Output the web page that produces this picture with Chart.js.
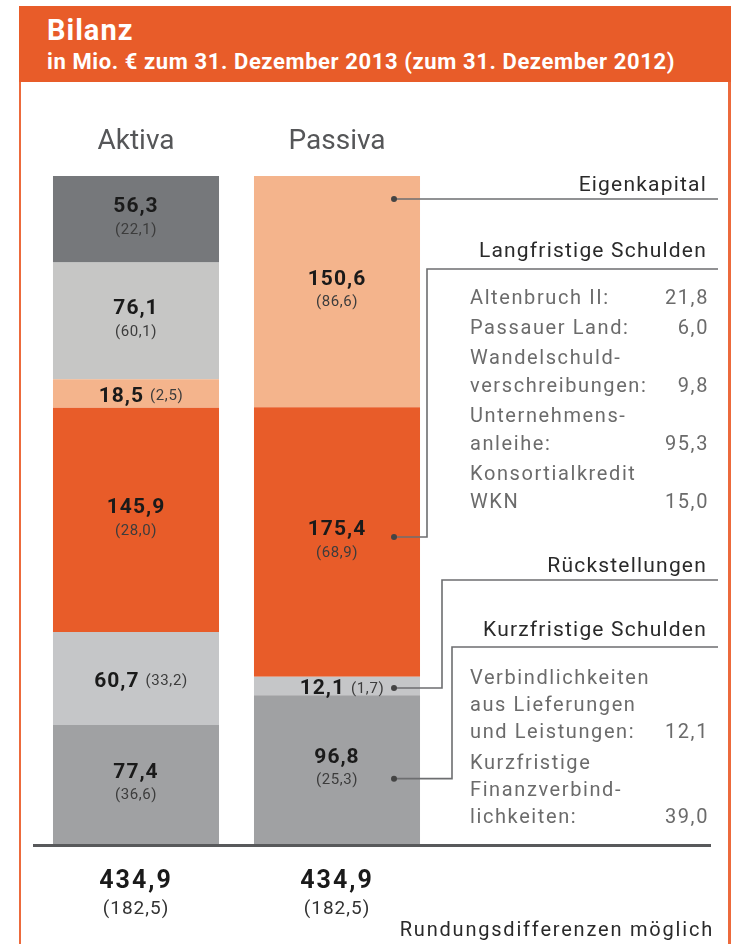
<!DOCTYPE html>
<html lang="de">
<head>
<meta charset="utf-8">
<title>Bilanz</title>
<script src="https://cdn.jsdelivr.net/npm/chart.js@4.4.1/dist/chart.umd.min.js"></script>
<style>
  html, body { margin: 0; padding: 0; background: #fff; }
  body { width: 734px; height: 944px; position: relative; overflow: hidden; font-family: Roboto, sans-serif; }
  #head { position: absolute; left: 19px; top: 6px; width: 712px; height: 76px; background: #e85c29; color: #fff; }
  #head .t1 { position: absolute; left: 28px; top: 10px; font-size: 29px; line-height: 29px; font-weight: 700; letter-spacing: 1px; white-space: nowrap; }
  #head .t2 { position: absolute; left: 28px; top: 45px; font-size: 22px; line-height: 22px; font-weight: 700; letter-spacing: 0.6px; white-space: nowrap; }
  .side { position: absolute; top: 82px; bottom: 0; background: #ec6a3c; }
  #chart { position: absolute; left: 0; top: 0; }
</style>
</head>
<body>
<div id="head">
  <div class="t1">Bilanz</div>
  <div class="t2">in Mio. € zum 31. Dezember 2013 (zum 31. Dezember 2012)</div>
</div>
<div class="side" style="left:19px;width:2px"></div>
<div class="side" style="left:728px;width:3px"></div>
<canvas id="chart" width="734" height="944"></canvas>
<script>
// Segmente jeweils von unten nach oben
const categories = ['Aktiva', 'Passiva'];
const aktiva2013 = [77.4, 60.7, 145.9, 18.5, 76.1, 56.3];
const aktiva2012 = [36.6, 33.2, 28.0, 2.5, 60.1, 22.1];
const passiva2013 = [96.8, 12.1, 175.4, 150.6];
const passiva2012 = [25.3, 1.7, 68.9, 86.6];
const total2013 = [434.9, 434.9];
const total2012 = [182.5, 182.5];

const langfristigeNames = [['Altenbruch II:'], ['Passauer Land:'], ['Wandelschuld-', 'verschreibungen:'], ['Unternehmens-', 'anleihe:'], ['Konsortialkredit', 'WKN']];
const langfristigeValues = [21.8, 6.0, 9.8, 95.3, 15.0];
const kurzfristigeNames = [['Verbindlichkeiten', 'aus Lieferungen', 'und Leistungen:'], ['Kurzfristige', 'Finanzverbind-', 'lichkeiten:']];
const kurzfristigeValues = [12.1, 39.0];

const colors = ['#a0a1a3', '#c5c6c8', '#e85c29', '#f4b48c', '#c6c6c5', '#76787b'];
const inlineSeg = [[1, 3], [1]];   // Segmente mit Vorjahreswert in derselben Zeile

const fmt = v => v.toFixed(1).replace('.', ',');
const sum = a => a.reduce((s, v) => s + v, 0);

function txt(ctx, s, x, y, font, color, align, ls) {
  ctx.font = font;
  ctx.fillStyle = color;
  ctx.textAlign = align || 'left';
  ctx.letterSpacing = (ls || 0) + 'px';
  ctx.fillText(s, x, y);
}

const levels = Math.max(aktiva2013.length, passiva2013.length);
const datasets = [];
for (let i = 0; i < levels; i++) {
  datasets.push({
    data: [aktiva2013[i] ?? null, passiva2013[i] ?? null],
    backgroundColor: colors[i],
    borderWidth: 0,
    categoryPercentage: 0.826,
    barPercentage: 1
  });
}

const bilanzPlugin = {
  id: 'bilanz',
  afterDatasetsDraw(chart) {
    const ctx = chart.ctx;
    const xs = chart.scales.x, ys = chart.scales.y;
    const priors = [aktiva2012, passiva2012];
    ctx.save();

    // Werte in den Balken
    chart.data.datasets.forEach((ds, i) => {
      chart.getDatasetMeta(i).data.forEach((bar, j) => {
        const v = ds.data[j];
        if (v == null) return;
        const cy = (bar.y + bar.base) / 2;
        const val = fmt(v), prev = '(' + fmt(priors[j][i]) + ')';
        ctx.textBaseline = 'middle';
        if (inlineSeg[j].includes(i)) {
          ctx.font = 'bold 21px Roboto'; ctx.letterSpacing = '1px';
          const w1 = ctx.measureText(val).width;
          ctx.font = '15px Roboto'; ctx.letterSpacing = '0.6px';
          const w2 = ctx.measureText(prev).width;
          const gap = 6;
          const x0 = bar.x + 5 - (w1 + gap + w2) / 2;
          txt(ctx, val, x0, cy + 3, 'bold 21px Roboto', '#1a1a1a', 'left', 1);
          txt(ctx, prev, x0 + w1 + gap, cy + 3, '15px Roboto', '#3c3c3c', 'left', 0.6);
        } else {
          txt(ctx, val, bar.x, cy - 12, 'bold 21px Roboto', '#1a1a1a', 'center', 1);
          txt(ctx, prev, bar.x, cy + 11, '15px Roboto', '#3c3c3c', 'center', 0.6);
        }
      });
    });

    // Grundlinie
    const y0 = ys.getPixelForValue(0);
    ctx.fillStyle = '#58595b';
    ctx.fillRect(33, y0, 678, 3);

    // Summen
    ctx.textBaseline = 'alphabetic';
    categories.forEach((c, j) => {
      const x = xs.getPixelForValue(j);
      txt(ctx, fmt(total2013[j]), x, 888, 'bold 25px Roboto', '#1a1a1a', 'center', 2);
      txt(ctx, '(' + fmt(total2012[j]) + ')', x, 914, '19px Roboto', '#333', 'center', 1);
    });

    // Erläuterungen zur Passivseite
    const seg = i => chart.getDatasetMeta(i).data[1];
    const barRight = seg(0).x + seg(0).width / 2;
    const dotX = barRight - 26;
    const notes = [
      { text: 'Eigenkapital', level: 3, textY: 191, lineY: null, elbowX: null, dot: b => b.y + 23 },
      { text: 'Langfristige Schulden', level: 2, textY: 257, lineY: 269, elbowX: 427, dot: b => (b.y + b.base) / 2 - 5 },
      { text: 'Rückstellungen', level: 1, textY: 572, lineY: 580, elbowX: 442, dot: b => (b.y + b.base) / 2 + 2 },
      { text: 'Kurzfristige Schulden', level: 0, textY: 636, lineY: 647, elbowX: 452, dot: b => (b.y + b.base) / 2 + 9 }
    ];
    notes.forEach(n => {
      const dy = n.dot(seg(n.level));
      ctx.strokeStyle = '#6d6e70';
      ctx.lineWidth = 1.6;
      ctx.beginPath();
      ctx.moveTo(dotX, dy);
      if (n.elbowX == null) {
        ctx.lineTo(718, dy);
      } else {
        ctx.lineTo(n.elbowX, dy);
        ctx.lineTo(n.elbowX, n.lineY);
        ctx.lineTo(718, n.lineY);
      }
      ctx.stroke();
      ctx.fillStyle = '#444';
      ctx.beginPath();
      ctx.arc(dotX, dy, 3, 0, Math.PI * 2);
      ctx.fill();
      txt(ctx, n.text, 707, n.textY, '21px Roboto', '#2a2a2a', 'right', 1.2);
    });

    // Unterpositionen
    const list = (names, values, y, step, gap) => {
      names.forEach((lines, k) => {
        lines.forEach((ln, m) => {
          txt(ctx, ln, 470, y, '20px Roboto', '#6b6b6b', 'left', 1.6);
          if (m === lines.length - 1) txt(ctx, fmt(values[k]), 709, y, '20px Roboto', '#6b6b6b', 'right', 1.6);
          y += step;
        });
        y += gap;
      });
    };
    list(langfristigeNames, langfristigeValues, 304, 28, 2);
    list(kurzfristigeNames, kurzfristigeValues, 684, 27, 4);

    txt(ctx, 'Rundungsdifferenzen möglich', 714, 936, '20px Roboto', '#2a2a2a', 'right', 1.8);
    ctx.restore();
  }
};

new Chart(document.getElementById('chart'), {
  type: 'bar',
  data: { labels: categories, datasets: datasets },
  options: {
    responsive: false,
    animation: false,
    devicePixelRatio: 1,
    layout: { padding: { left: 35.5, right: 296.5, top: 106, bottom: 100 } },
    plugins: { legend: { display: false }, tooltip: { enabled: false } },
    scales: {
      x: {
        stacked: true,
        position: 'top',
        grid: { display: false, drawTicks: false },
        border: { display: false },
        ticks: { color: '#555658', font: { family: 'Roboto', size: 28 }, padding: 17 },
        afterFit: s => { s.height = 70; }
      },
      y: { stacked: true, display: false, min: 0, max: Math.max(sum(aktiva2013), sum(passiva2013)) }
    }
  },
  plugins: [bilanzPlugin]
});
</script>
</body>
</html>
